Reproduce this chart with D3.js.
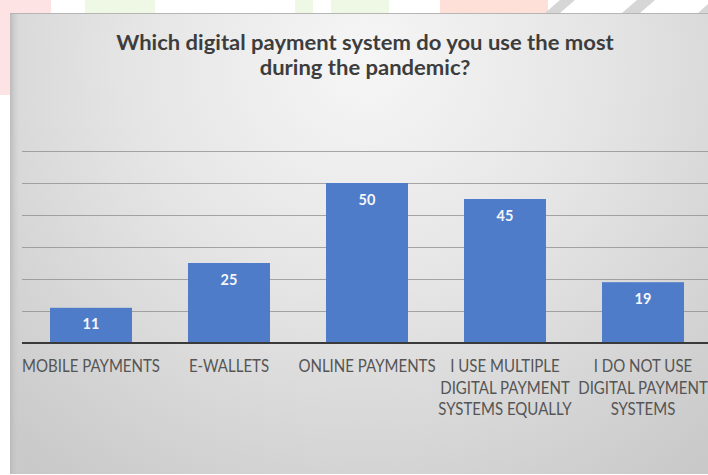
<!DOCTYPE html>
<html>
<head>
<meta charset="utf-8">
<script src="https://cdn.jsdelivr.net/npm/d3@7"></script>
<style>
  html, body { margin: 0; padding: 0; background: #ffffff; }
  svg { display: block; }
</style>
</head>
<body>
<svg id="chart" width="708" height="475"></svg>
<script>
const titleLines = ["Which digital payment system do you use the most", "during the pandemic?"];
const categories = [
  ["MOBILE PAYMENTS"],
  ["E-WALLETS"],
  ["ONLINE PAYMENTS"],
  ["I USE MULTIPLE", "DIGITAL PAYMENT", "SYSTEMS EQUALLY"],
  ["I DO NOT USE", "DIGITAL PAYMENT", "SYSTEMS"]
];
const values = [11, 25, 50, 45, 19];
const yTicks = [0, 10, 20, 30, 40, 50, 60];

const svg = d3.select("#chart");
const defs = svg.append("defs");

// background gradient
const rg = defs.append("radialGradient").attr("id", "bg")
  .attr("gradientUnits", "userSpaceOnUse")
  .attr("cx", 365).attr("cy", 60).attr("r", 520);
rg.append("stop").attr("offset", "0%").attr("stop-color", "#f6f6f6");
rg.append("stop").attr("offset", "45%").attr("stop-color", "#e5e5e5");
rg.append("stop").attr("offset", "100%").attr("stop-color", "#c9c9c9");

const lg = defs.append("linearGradient").attr("id", "edge")
  .attr("x1", "0").attr("x2", "1").attr("y1", "0").attr("y2", "0");
lg.append("stop").attr("offset", "0%").attr("stop-color", "#b8b8b8").attr("stop-opacity", 0.9);
lg.append("stop").attr("offset", "100%").attr("stop-color", "#d0d0d0").attr("stop-opacity", 0);

// watermark remnants above the panel
const wm = svg.append("g").attr("class", "watermark");
wm.append("rect").attr("x", 0).attr("y", 0).attr("width", 10).attr("height", 95).attr("fill", "#fde3e3");
wm.append("rect").attr("x", 10).attr("y", 0).attr("width", 41).attr("height", 13).attr("fill", "#fde3e3");
wm.append("rect").attr("x", 85).attr("y", 0).attr("width", 70).attr("height", 13).attr("fill", "#eef8e4");
wm.append("rect").attr("x", 295).attr("y", 0).attr("width", 18).attr("height", 13).attr("fill", "#eef8e4");
wm.append("rect").attr("x", 331).attr("y", 0).attr("width", 58).attr("height", 13).attr("fill", "#eef8e4");
wm.append("rect").attr("x", 440).attr("y", 0).attr("width", 108).attr("height", 13).attr("fill", "#fee0d8");
wm.append("path").attr("d", "M545,13 L560,0 L575,0 L560,13 Z").attr("fill", "#d6d6d6");
wm.append("path").attr("d", "M622,13 L637,0 L655,0 L640,13 Z").attr("fill", "#d6d6d6");
wm.append("path").attr("d", "M698,13 L708,4 L708,13 Z").attr("fill", "#d6d6d6");

// panel
svg.append("rect").attr("x", 10).attr("y", 13).attr("width", 712).attr("height", 461)
  .attr("fill", "url(#bg)");
svg.append("rect").attr("x", 10).attr("y", 13).attr("width", 10).attr("height", 461)
  .attr("fill", "url(#edge)");
svg.append("line").attr("x1", 10).attr("x2", 708).attr("y1", 13.5).attr("y2", 13.5)
  .attr("stroke", "#b5b5b5").attr("stroke-width", 1);

// scales
const x = d3.scaleBand().domain(d3.range(categories.length)).range([22, 712])
  .paddingInner(0.406).paddingOuter(0.203);
const y = d3.scaleLinear().domain([0, 60]).range([343, 151]);

// gridlines
const grid = svg.append("g").attr("class", "grid")
  .call(d3.axisLeft(y).tickValues(yTicks.filter(t => t > 0)).tickSize(-(712 - 22)).tickFormat(""))
  .attr("transform", "translate(22,0)");
grid.select(".domain").remove();
grid.selectAll(".tick line").attr("stroke", "#8c8c8c").attr("stroke-width", 1).attr("stroke-opacity", 0.75);

// bars
svg.append("g").selectAll("rect").data(values).join("rect")
  .attr("x", (d, i) => x(i))
  .attr("y", d => y(d))
  .attr("width", x.bandwidth())
  .attr("height", d => y(0) - y(d))
  .attr("fill", "#4f7cc8");

// baseline axis
const xAxis = svg.append("g").attr("transform", `translate(0,${y(0)})`)
  .call(d3.axisBottom(x).tickSize(0).tickFormat(""));
xAxis.select(".domain").attr("stroke", "#3a3a3a").attr("stroke-width", 2)
  .attr("d", `M22,0H712`);

// value labels
svg.append("g").selectAll("text").data(values).join("text")
  .attr("x", (d, i) => x(i) + x.bandwidth() / 2)
  .attr("y", d => y(d) + 21.5)
  .attr("text-anchor", "middle")
  .attr("font-family", "Lato, 'Open Sans', sans-serif")
  .attr("font-weight", "bold")
  .attr("font-size", 14.5)
  .attr("fill", "#f4f6fb")
  .text(d => d);

// category labels (Calibri-like: condensed horizontally)
const labFont = 17.5;
const labG = svg.append("g");
const labs = labG.selectAll("text").data(categories).join("text")
  .attr("text-anchor", "middle")
  .attr("font-family", "Lato, 'Open Sans', sans-serif")
  .attr("font-size", labFont)
  .attr("fill", "#555555");
labs.each(function(lines, i) {
  const t = d3.select(this);
  lines.forEach((ln, j) => {
    t.append("tspan").attr("x", 0).attr("y", 372 + j * 21.7).text(ln);
  });
});
const w0 = labs.filter((d, i) => i === 0).select("tspan").node().getComputedTextLength();
const sx = 138 / w0;
labs.attr("transform", (d, i) => `translate(${x(i) + x.bandwidth() / 2},0) scale(${sx},1)`);

// title
const titleFont = 20.5;
const title = svg.append("g").selectAll("text").data(titleLines).join("text")
  .attr("y", (d, i) => 50 + i * 25.5)
  .attr("text-anchor", "middle")
  .attr("font-family", "Lato, 'Open Sans', sans-serif")
  .attr("font-weight", "bold")
  .attr("font-size", titleFont)
  .attr("fill", "#3d3d3d")
  .text(d => d);
const tw = title.filter((d, i) => i === 0).node().getComputedTextLength();
title.attr("transform", `translate(365,0) scale(${498 / tw},1)`);
</script>
</body>
</html>
